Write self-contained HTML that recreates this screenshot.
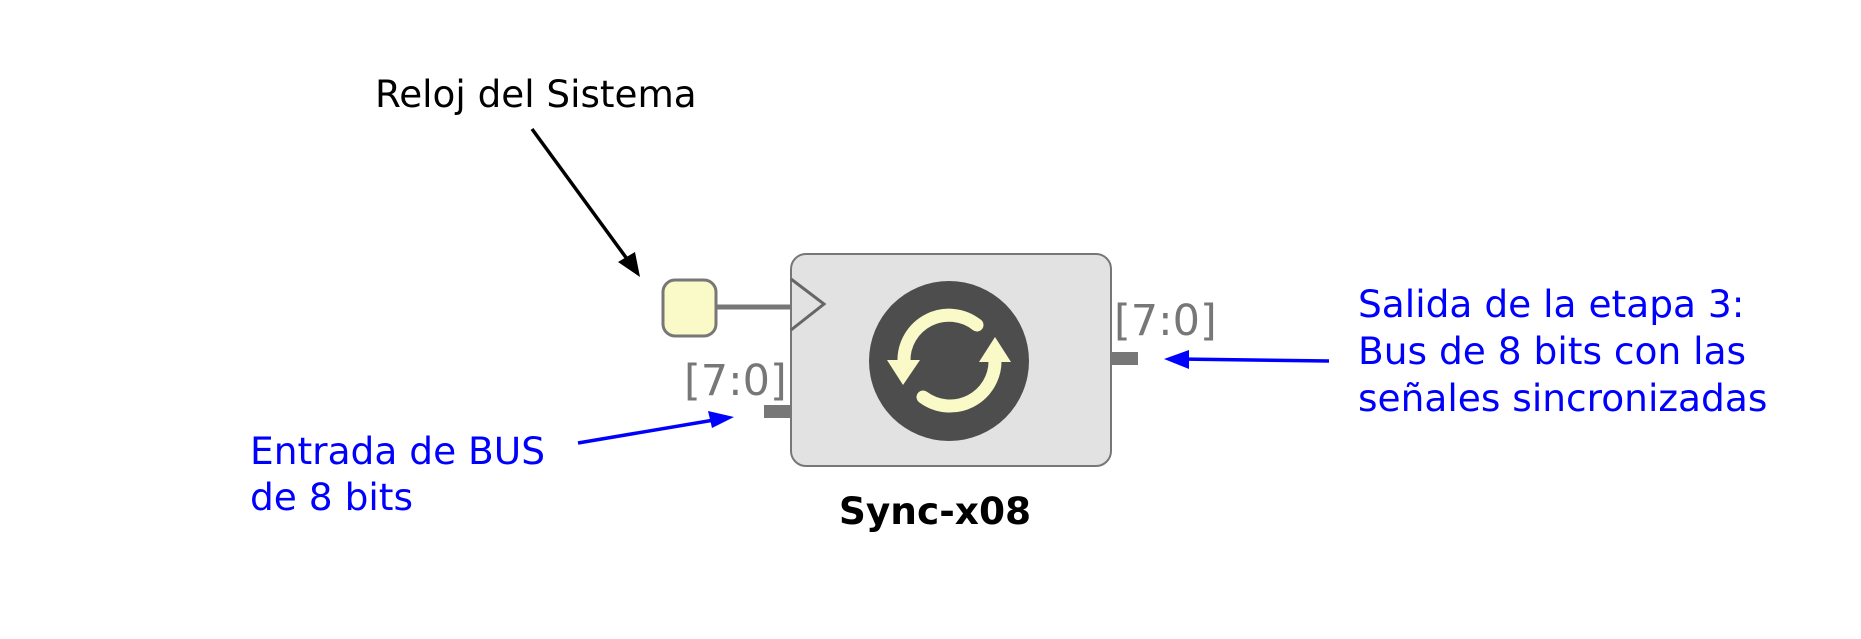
<!DOCTYPE html>
<html><head><meta charset="utf-8"><style>
html,body{margin:0;padding:0;background:#fff;}
svg{display:block;}
text{font-family:"DejaVu Sans","Liberation Sans",sans-serif;}
</style></head><body>
<svg width="1861" height="639" viewBox="0 0 1861 639" xmlns="http://www.w3.org/2000/svg">
<rect width="1861" height="639" fill="#fff"/>
<!-- black arrow -->
<line x1="532" y1="129" x2="630" y2="263" stroke="#000" stroke-width="3.5"/>
<polygon points="640,277 618,262 635,252" fill="#000"/>
<text x="375" y="107" font-size="37.3" fill="#000">Reloj del Sistema</text>
<!-- clock port -->
<line x1="716" y1="307" x2="791" y2="307" stroke="#777" stroke-width="5"/>
<rect x="663" y="280" width="53" height="56" rx="12" fill="#fafac8" stroke="#777" stroke-width="3"/>
<!-- box -->
<rect x="791" y="254" width="320" height="212" rx="15" fill="#e2e2e2" stroke="#777" stroke-width="2"/>
<polyline points="791,279 824,304 791,330" fill="none" stroke="#666" stroke-width="3"/>
<!-- stubs -->
<rect x="764" y="405" width="27" height="13" fill="#777"/>
<rect x="1111" y="352" width="27" height="13" fill="#777"/>
<text x="684" y="395" font-size="43" fill="#777">[7:0]</text>
<text x="1114" y="335" font-size="43" fill="#777">[7:0]</text>
<!-- icon -->
<circle cx="949" cy="361" r="80" fill="#4d4d4d"/>
<path d="M977,325 A45,45 0 0 0 904,362" fill="none" stroke="#fafac8" stroke-width="13" stroke-linecap="round"/>
<polygon points="887,360 920,360 903,385" fill="#fafac8"/>
<path d="M923,397 A45,45 0 0 0 995,360" fill="none" stroke="#fafac8" stroke-width="13" stroke-linecap="round"/>
<polygon points="979,362 1011,362 995,337" fill="#fafac8"/>
<text x="935" y="524" font-size="37.5" font-weight="bold" fill="#000" text-anchor="middle">Sync-x08</text>
<!-- left blue -->
<line x1="578" y1="443" x2="720" y2="419" stroke="#00f" stroke-width="3.5"/>
<polygon points="734,417 712,428 708,411" fill="#00f"/>
<text font-size="37.5" fill="#00f"><tspan x="250" y="464">Entrada de BUS</tspan><tspan x="250" y="510">de 8 bits</tspan></text>
<!-- right blue -->
<line x1="1329" y1="361" x2="1178" y2="359" stroke="#00f" stroke-width="3.5"/>
<polygon points="1164,359 1189,350 1189,369" fill="#00f"/>
<text font-size="37.5" fill="#00f"><tspan x="1358" y="317">Salida de la etapa 3:</tspan><tspan x="1358" y="364">Bus de 8 bits con las</tspan><tspan x="1358" y="411">señales sincronizadas</tspan></text>
</svg>
</body></html>
